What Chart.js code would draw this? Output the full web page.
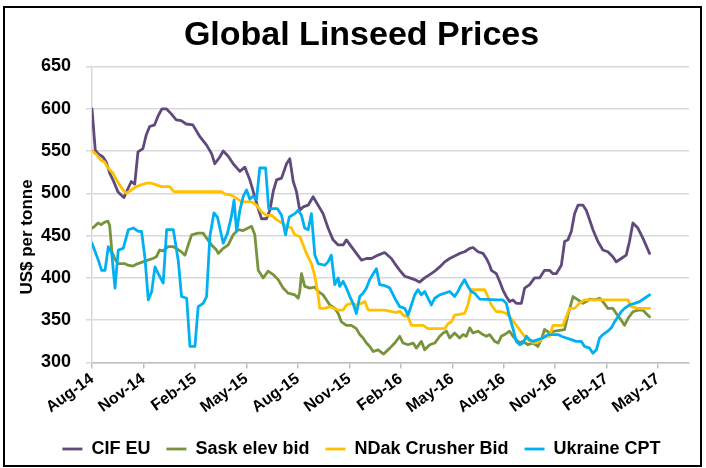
<!DOCTYPE html>
<html>
<head>
<meta charset="utf-8">
<script src="https://cdn.jsdelivr.net/npm/chart.js@4/dist/chart.umd.min.js"></script>
<style>
html,body{margin:0;padding:0;background:#fff;}
#wrap{width:706px;height:468px;position:relative;}
</style>
</head>
<body>
<div id="wrap"><canvas id="c" width="706" height="468"></canvas></div>
<script>
// ---- data (x = months since Aug-2014) ----
const tickMonths = [0,3,6,9,12,15,18,21,24,27,30,33];
const tickLabels = ['Aug-14','Nov-14','Feb-15','May-15','Aug-15','Nov-15','Feb-16','May-16','Aug-16','Nov-16','Feb-17','May-17'];
const seriesNames = ['CIF EU','Sask elev bid','NDak Crusher Bid','Ukraine CPT'];
const seriesColors = ['#604A7B','#77933C','#FFC000','#00B0F0'];

const cifMonths = [0,0.19,0.35,0.64,0.83,1.03,1.22,1.51,1.7,1.86,2.06,2.29,2.49,2.68,2.97,3.16,3.36,3.65,3.84,4.08,4.33,4.62,4.91,5.2,5.49,5.88,6.29,6.68,6.97,7.16,7.45,7.65,7.94,8.23,8.62,8.91,9.2,9.49,9.69,9.88,10.17,10.37,10.56,10.76,11.05,11.34,11.53,11.73,11.92,12.11,12.31,12.6,12.89,13.18,13.47,13.76,14.05,14.35,14.64,14.83,15.12,15.41,15.71,16.0,16.29,16.68,17.06,17.45,17.65,17.94,18.23,18.52,18.81,19.1,19.39,19.69,19.98,20.27,20.56,20.85,21.14,21.43,21.72,22.02,22.21,22.5,22.79,22.99,23.18,23.28,23.57,23.76,23.95,24.15,24.34,24.54,24.73,25.03,25.22,25.51,25.8,26.09,26.38,26.67,26.87,27.06,27.36,27.55,27.74,27.94,28.13,28.33,28.62,28.81,29.0,29.2,29.49,29.78,30.07,30.36,30.56,30.85,31.14,31.33,31.53,31.82,32.11,32.5];
const cifPrices = [600,551,547,543,537,524,516,502,498,495,504,514,511,549,553,569,579,581,591,600,600,594,587,586,582,581,567,557,547,535,543,550,544,535,526,531,516,496,482,470,470,480,502,516,518,535,541,514,502,480,484,486,496,486,476,459,445,439,439,445,437,429,421,423,423,427,430,423,417,409,402,400,398,395,400,404,408,413,419,423,426,429,431,435,436,431,429,423,415,409,405,396,386,378,372,374,370,370,388,392,400,400,409,409,405,405,415,443,445,455,476,486,486,480,469,457,443,433,431,425,419,423,427,443,465,459,447,429];

const saskMonths = [0,0.16,0.35,0.54,0.74,0.93,1.03,1.16,1.32,1.51,1.9,2.1,2.39,2.68,2.97,3.26,3.55,3.75,3.94,4.14,4.43,4.72,4.91,5.2,5.42,5.61,5.81,6.19,6.48,6.68,6.97,7.26,7.36,7.65,7.94,8.23,8.52,8.81,9.1,9.3,9.49,9.69,9.98,10.27,10.56,10.85,11.14,11.44,11.82,12.02,12.11,12.21,12.4,12.7,12.99,13.18,13.47,13.67,13.86,14.15,14.35,14.54,14.83,15.12,15.41,15.61,15.8,16.0,16.19,16.39,16.68,17.0,17.36,17.65,17.94,18.13,18.42,18.72,18.91,19.2,19.39,19.69,19.98,20.27,20.47,20.66,20.85,21.14,21.43,21.63,21.82,22.02,22.21,22.5,22.79,22.99,23.18,23.47,23.67,23.86,24.05,24.34,24.54,24.73,24.93,25.12,25.41,25.7,25.99,26.19,26.38,26.67,26.96,27.55,27.74,28.04,28.33,28.62,28.81,29.0,29.3,29.59,29.78,30.07,30.36,30.56,30.85,31.04,31.24,31.53,31.82,32.11,32.3,32.5];
const saskPrices = [459,461,465,463,466,467,462,431,423,417,417,415,414,417,419,421,423,425,433,432,437,437,435,431,427,439,451,453,453,447,439,433,429,435,439,451,457,456,459,461,451,409,400,408,404,398,388,382,380,376,384,405,390,388,389,384,380,374,368,364,358,348,344,344,340,333,329,323,319,313,315,310,317,323,331,323,321,323,317,325,315,321,323,331,335,337,329,335,329,333,331,341,335,337,333,331,333,325,323,331,333,337,331,327,323,325,321,323,319,327,339,335,337,339,356,378,374,370,372,375,374,376,372,364,364,358,350,344,352,360,362,362,358,354];

const ndakMonths = [0,0.25,0.54,0.74,0.93,1.22,1.42,1.61,1.81,2.0,2.29,2.58,2.87,3.16,3.46,3.75,4.04,4.52,4.78,7.55,7.75,8.13,8.43,8.72,9.3,9.59,9.88,10.17,10.47,10.76,11.05,11.34,11.63,11.82,12.11,12.31,12.5,12.79,12.99,13.18,13.28,13.57,13.86,14.35,14.64,14.83,15.12,15.41,15.71,15.9,16.1,17.06,17.74,17.94,18.13,18.42,18.62,19.3,19.59,20.56,20.76,20.95,21.14,21.72,21.91,22.11,22.89,23.08,23.28,23.57,23.86,24.15,24.44,24.73,25.03,25.22,25.51,25.8,26.09,26.38,26.67,26.87,27.45,27.65,27.84,28.13,28.42,28.71,31.24,31.43,31.82,32.5];
const ndakPrices = [551,546,539,537,530,524,516,510,504,500,504,508,510,512,512,510,508,508,502,502,499,498,494,490,490,486,478,474,474,469,465,461,459,451,449,439,429,417,402,380,364,364,366,362,362,368,370,368,370,372,362,362,359,361,356,354,344,344,340,340,346,348,356,358,368,386,386,378,368,360,360,358,352,344,336,331,325,323,325,331,331,344,344,354,364,364,370,374,374,366,364,364];

const ukrMonths = [0,0.37,0.56,0.76,0.95,1.15,1.34,1.53,1.82,2.12,2.41,2.7,2.89,3.09,3.28,3.48,3.67,3.86,4.15,4.35,4.74,5.03,5.22,5.52,5.71,6.0,6.19,6.48,6.68,6.87,7.11,7.31,7.65,7.9,8.13,8.28,8.43,8.62,8.81,9.01,9.2,9.39,9.59,9.78,10.12,10.3,10.8,11.05,11.28,11.5,11.82,12.02,12.21,12.4,12.6,12.79,12.99,13.18,13.57,13.76,13.95,14.15,14.35,14.44,14.64,14.83,15.03,15.22,15.41,15.61,15.8,16.0,16.19,16.39,16.58,16.77,17.06,17.36,17.65,17.94,18.23,18.42,18.62,18.81,19.0,19.2,19.39,19.78,19.98,20.27,20.85,21.14,21.33,21.53,21.72,21.91,22.11,22.3,22.6,23.67,23.95,24.15,24.34,24.54,24.73,24.93,25.12,25.32,25.51,25.7,25.99,26.28,26.58,27.16,27.36,27.65,27.94,28.23,28.52,28.71,29.0,29.2,29.4,29.59,29.78,30.07,30.27,30.46,30.66,30.85,31.04,31.33,31.63,31.92,32.21,32.5];
const ukrPrices = [441,421,409,409,437,429,388,433,435,457,459,455,455,423,374,384,413,405,394,457,457,420,378,376,319,319,366,370,378,449,477,472,441,453,473,492,455,480,496,504,493,497,493,530,530,482,482,474,451,472,476,480,474,459,457,476,427,417,415,419,427,392,400,390,396,388,378,370,358,378,382,388,398,405,411,392,391,388,376,366,364,356,368,380,386,380,384,368,376,380,384,378,384,392,398,390,384,382,375,374,374,370,354,340,325,321,323,331,327,325,327,329,333,333,331,329,327,325,325,319,317,311,315,329,333,337,341,348,354,360,364,368,370,372,376,380];

const yTicksMin = 300, yTicksMax = 650, yStep = 50;

// ---- build chart ----
function pts(ms, vs){ return ms.map((m,i)=>({x:m, y:vs[i]})); }
const seriesData = [pts(cifMonths,cifPrices), pts(saskMonths,saskPrices), pts(ndakMonths,ndakPrices), pts(ukrMonths,ukrPrices)];

const FONT = "'Liberation Sans', Arial, sans-serif";

const framePlugin = {
  id: 'frame',
  beforeDraw(chart){
    const ctx = chart.ctx;
    ctx.save();
    ctx.fillStyle = '#fff';
    ctx.fillRect(0,0,chart.width,chart.height);
    ctx.restore();
  },
  afterDraw(chart){
    const ctx = chart.ctx;
    ctx.save();
    ctx.strokeStyle = '#000';
    ctx.lineWidth = 2;
    ctx.strokeRect(4, 7, 697, 459);
    // y axis title
    ctx.fillStyle = '#000';
    ctx.font = "bold 17px " + FONT;
    ctx.textAlign = 'center';
    ctx.textBaseline = 'middle';
    ctx.translate(27, 237);
    ctx.rotate(-Math.PI/2);
    ctx.fillText('US$ per tonne', 0, 0);
    ctx.restore();
  }
};

new Chart(document.getElementById('c'), {
  type: 'line',
  data: {
    datasets: seriesNames.map((n,i)=>({
      label: n,
      data: seriesData[i],
      borderColor: seriesColors[i],
      backgroundColor: seriesColors[i],
      borderWidth: 2.8,
      pointRadius: 0,
      tension: 0,
      fill: false,
      borderJoinStyle: 'round',
      borderCapStyle: 'round',
      order: 4 - i
    }))
  },
  options: {
    responsive: false,
    animation: false,
    devicePixelRatio: 1,
    layout: { padding: { left: 34, right: 17, top: 0, bottom: 0 } },
    plugins: {
      title: {
        display: true,
        text: 'Global Linseed Prices',
        color: '#000',
        font: { family: FONT, size: 34, weight: 'bold' },
        padding: { top: 15, bottom: 10.7 }
      },
      legend: {
        position: 'bottom',
        labels: {
          usePointStyle: true,
          pointStyle: 'line',
          pointStyleWidth: 20,
          color: '#000',
          font: { family: FONT, size: 18, weight: 'bold' },
          padding: 16,
          sort: (a,b) => a.datasetIndex - b.datasetIndex
        }
      },
      tooltip: { enabled: false }
    },
    scales: {
      x: {
        type: 'linear',
        min: 0,
        max: 34.8,
        afterBuildTicks: (scale) => { scale.ticks = tickMonths.map(v => ({ value: v })); },
        afterFit: (scale) => { scale.height = 61.5; },
        grid: { drawOnChartArea: false, drawTicks: true, tickLength: 6, color: '#bfbfbf', lineWidth: 1.5 },
        border: { display: true, color: '#bfbfbf', width: 1.5 },
        ticks: {
          autoSkip: false,
          maxRotation: 36,
          minRotation: 36,
          padding: 1,
          color: '#000',
          font: { family: FONT, size: 16, weight: 'bold' },
          callback: (v, i) => tickLabels[i]
        }
      },
      y: {
        min: yTicksMin,
        max: yTicksMax,
        afterFit: (scale) => { scale.width = 58; },
        grid: { color: '#d9d9d9', lineWidth: 1.5, tickLength: 6 },
        border: { display: true, color: '#d9d9d9', width: 1.5 },
        ticks: {
          stepSize: yStep,
          padding: 15,
          color: '#000',
          font: { family: FONT, size: 18, weight: 'bold' }
        }
      }
    }
  },
  plugins: [framePlugin]
});
</script>
</body>
</html>
